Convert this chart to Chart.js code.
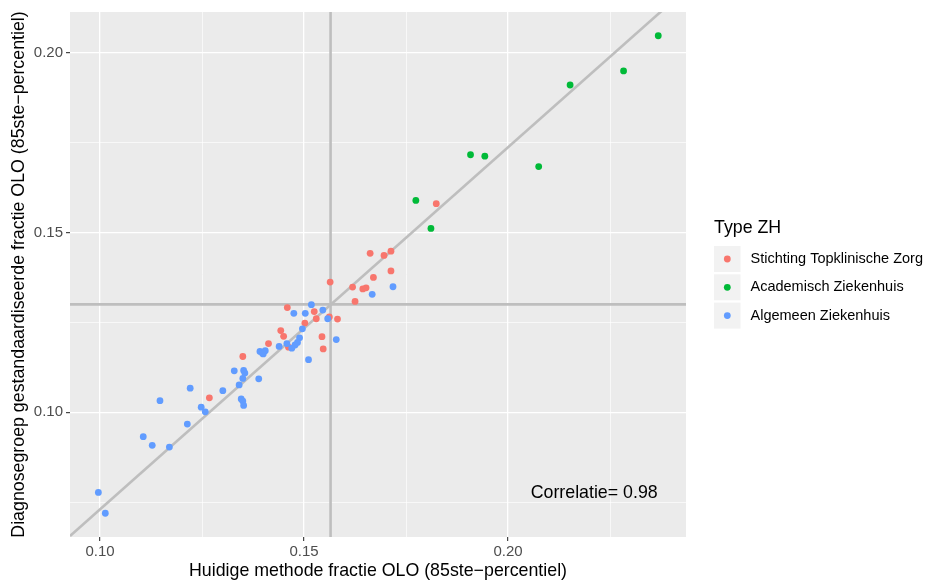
<!DOCTYPE html>
<html>
<head>
<meta charset="utf-8">
<script src="https://cdn.jsdelivr.net/npm/chart.js@4/dist/chart.umd.min.js"></script>
<style>
  html, body { margin: 0; padding: 0; background: #ffffff; }
  #wrap { width: 929px; height: 583px; position: relative; }
</style>
</head>
<body>
<div id="wrap"><canvas id="c"></canvas></div>
<script>
// ---- Data ----
const seriesNames = ["Stichting Topklinische Zorg", "Academisch Ziekenhuis", "Algemeen Ziekenhuis"];

const stzX = [0.1824,0.1713,0.1696,0.1713,0.1662,0.1670,0.1564,0.1619,0.1644,0.1652,0.1625,0.1459,0.1525,0.1530,0.1562,0.1582,0.1502,0.1443,0.1450,0.1544,0.1547,0.1413,0.1462,0.1350,0.1268];
const stzY = [0.1580,0.1448,0.1436,0.1393,0.1442,0.1375,0.1362,0.1348,0.1343,0.1346,0.1308,0.1291,0.1280,0.1260,0.1265,0.1259,0.1248,0.1227,0.1211,0.1210,0.1176,0.1191,0.1181,0.1155,0.1040];

const azX = [0.2368,0.2283,0.2152,0.1908,0.1943,0.2075,0.1774,0.1811];
const azY = [0.2047,0.1949,0.1910,0.1716,0.1712,0.1683,0.1589,0.1511];

const alzX = [0.1718,0.1667,0.1518,0.1475,0.1503,0.1546,0.1558,0.1496,0.1489,0.1484,0.1478,0.1470,0.1439,0.1458,0.1579,0.1511,0.1392,0.1398,0.1405,0.1400,0.1389,0.1350,0.0996,0.1013,0.1106,0.1128,0.1170,0.1147,0.1214,0.1221,0.1248,0.1258,0.1301,0.1341,0.1329,0.1352,0.1355,0.1346,0.1350,0.1352];
const alzY = [0.1349,0.1328,0.1299,0.1275,0.1275,0.1284,0.1260,0.1232,0.1207,0.1194,0.1187,0.1178,0.1183,0.1191,0.1202,0.1146,0.1169,0.1164,0.1171,0.1162,0.1093,0.1094,0.0777,0.0719,0.0932,0.0908,0.0903,0.1032,0.0967,0.1067,0.1014,0.1001,0.1060,0.1076,0.1115,0.1116,0.1109,0.1037,0.1031,0.1019];

// regression line and reference lines
const fitX = [0.09265, 0.2436];
const fitY = [0.0656, 0.2176];
const refX = 0.1565;
const refY = 0.1300;

// ticks (major labelled, minor grid only)
const xTicks = [0.100, 0.125, 0.150, 0.175, 0.200, 0.225];
const yTicks = [0.075, 0.100, 0.125, 0.150, 0.175, 0.200];
const xRange = [0.09265, 0.2436];
const yRange = [0.0653, 0.2113];

const xTitle = "Huidige methode fractie OLO (85ste\u2212percentiel)";
const yTitle = "Diagnosegroep gestandaardiseerde fractie OLO (85ste\u2212percentiel)";
const legendTitle = "Type ZH";
const corrLabel = "Correlatie= 0.98";
const corrPos = [0.2211, 0.0774];

const colors = ["#F8766D", "#00BA38", "#619CFF"];
const FONT = "'Liberation Sans', Arial, Helvetica, sans-serif";

function pts(xs, ys) { return xs.map((x, i) => ({ x: x, y: ys[i] })); }
function isMajor(v) { return Math.abs(v * 20 - Math.round(v * 20)) < 1e-6; }

const panelBg = {
  id: 'panelBg',
  beforeDraw(chart) {
    const a = chart.chartArea, ctx = chart.ctx;
    ctx.save();
    ctx.fillStyle = '#EBEBEB';
    ctx.fillRect(a.left, a.top, a.right - a.left, a.bottom - a.top);
    ctx.restore();
  }
};

const extras = {
  id: 'extras',
  afterDraw(chart) {
    const ctx = chart.ctx, a = chart.chartArea;
    const xs = chart.scales.x, ys = chart.scales.y;
    ctx.save();
    // axis titles
    ctx.fillStyle = '#000000';
    ctx.font = '17.8px ' + FONT;
    ctx.textAlign = 'center';
    ctx.textBaseline = 'middle';
    ctx.fillText(xTitle, (a.left + a.right) / 2, 571);
    ctx.save();
    ctx.translate(19, (a.top + a.bottom) / 2);
    ctx.rotate(-Math.PI / 2);
    ctx.fillText(yTitle, 0, 0);
    ctx.restore();
    // correlation annotation
    ctx.fillText(corrLabel, xs.getPixelForValue(corrPos[0]), ys.getPixelForValue(corrPos[1]));
    // legend
    ctx.textAlign = 'left';
    ctx.fillText(legendTitle, 714, 228);
    ctx.font = '14.5px ' + FONT;
    seriesNames.forEach((name, i) => {
      const top = 246 + i * 28.3;
      ctx.fillStyle = '#F2F2F2';
      ctx.fillRect(714, top, 26.5, 26);
      ctx.fillStyle = colors[i];
      ctx.beginPath();
      ctx.arc(727.3, top + 13, 3.4, 0, Math.PI * 2);
      ctx.fill();
      ctx.fillStyle = '#000000';
      ctx.fillText(name, 750.5, top + 13);
    });
    ctx.restore();
  }
};

const gridCfg = {
  color: '#FFFFFF',
  lineWidth: (c) => (c.tick && isMajor(c.tick.value)) ? 1.3 : 0.65,
  tickColor: (c) => (c.tick && isMajor(c.tick.value)) ? '#333333' : 'rgba(0,0,0,0)',
  tickLength: 4,
  tickWidth: 1.1,
  drawTicks: true
};

new Chart(document.getElementById('c'), {
  type: 'scatter',
  data: {
    datasets: [
      { label: seriesNames[0], data: pts(stzX, stzY), backgroundColor: colors[0], pointRadius: 3.4, pointBorderWidth: 0, order: 1 },
      { label: seriesNames[1], data: pts(azX, azY), backgroundColor: colors[1], pointRadius: 3.4, pointBorderWidth: 0, order: 2 },
      { label: seriesNames[2], data: pts(alzX, alzY), backgroundColor: colors[2], pointRadius: 3.4, pointBorderWidth: 0, order: 0 },
      { type: 'line', data: pts(fitX, fitY), borderColor: '#BEBEBE', borderWidth: 2.6, pointRadius: 0, fill: false, clip: 0, order: 10 },
      { type: 'line', data: [{ x: refX, y: yRange[0] }, { x: refX, y: yRange[1] }], borderColor: '#BEBEBE', borderWidth: 2.6, pointRadius: 0, fill: false, clip: 0, order: 11 },
      { type: 'line', data: [{ x: xRange[0], y: refY }, { x: xRange[1], y: refY }], borderColor: '#BEBEBE', borderWidth: 2.6, pointRadius: 0, fill: false, clip: 0, order: 12 }
    ]
  },
  options: {
    responsive: true,
    maintainAspectRatio: false,
    animation: false,
    events: [],
    layout: { padding: { top: 11, right: 243, left: 0, bottom: 0 } },
    plugins: { legend: { display: false }, tooltip: { enabled: false } },
    scales: {
      x: {
        type: 'linear', min: xRange[0], max: xRange[1],
        afterBuildTicks: (s) => { s.ticks = xTicks.map(v => ({ value: v })); },
        afterFit: (s) => { s.height = 46; },
        grid: gridCfg,
        border: { display: false },
        ticks: {
          autoSkip: false, maxRotation: 0, padding: 2,
          color: '#4D4D4D', font: { family: FONT, size: 15 },
          callback: (v) => isMajor(v) ? v.toFixed(2) : ''
        }
      },
      y: {
        type: 'linear', min: yRange[0], max: yRange[1],
        afterBuildTicks: (s) => { s.ticks = yTicks.map(v => ({ value: v })); },
        afterFit: (s) => { s.width = 70; },
        grid: gridCfg,
        border: { display: false },
        ticks: {
          autoSkip: false, padding: 3,
          color: '#4D4D4D', font: { family: FONT, size: 15 },
          callback: (v) => isMajor(v) ? v.toFixed(2) : ''
        }
      }
    }
  },
  plugins: [panelBg, extras]
});
</script>
</body>
</html>
